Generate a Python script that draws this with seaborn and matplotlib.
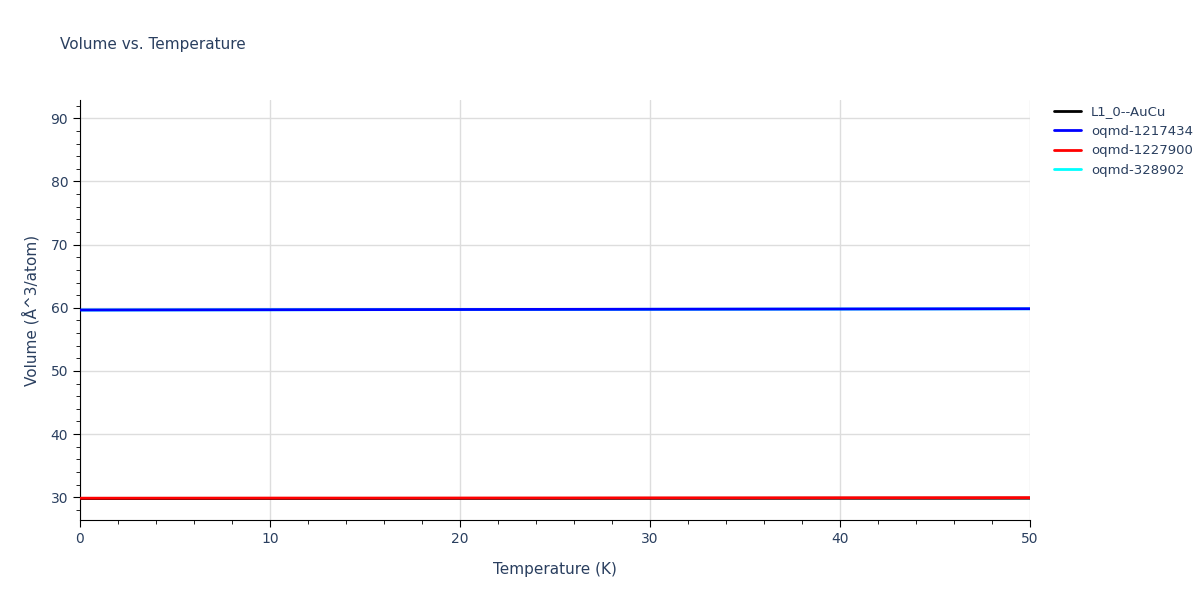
import matplotlib
matplotlib.use("Agg")
import matplotlib.pyplot as plt
import seaborn as sns
import pandas as pd
from matplotlib.ticker import MultipleLocator

temps = [0, 5, 10, 15, 20, 25, 30, 35, 40, 45, 50]
vol_l10 = [29.80, 29.80, 29.81, 29.81, 29.82, 29.82, 29.83, 29.83, 29.84, 29.84, 29.85]
vol_1217434 = [59.65, 59.67, 59.69, 59.71, 59.73, 59.75, 59.77, 59.79, 59.81, 59.83, 59.85]
vol_1227900 = [29.85, 29.86, 29.87, 29.87, 29.88, 29.89, 29.90, 29.91, 29.92, 29.93, 29.94]
vol_328902 = [59.64, 59.66, 59.68, 59.70, 59.72, 59.74, 59.76, 59.78, 59.80, 59.82, 59.84]

series = {
    "L1_0--AuCu": (vol_l10, "black", 2),
    "oqmd-1217434": (vol_1217434, "blue", 3),
    "oqmd-1227900": (vol_1227900, "red", 3),
    "oqmd-328902": (vol_328902, "cyan", 1),
}

sns.set_style("white")
fig = plt.figure(figsize=(12, 6), dpi=100)
ax = fig.add_axes([80 / 1200, 80 / 600, 950 / 1200, 420 / 600])

for name, (vals, col, z) in series.items():
    df = pd.DataFrame({"T": temps, "V": vals})
    sns.lineplot(data=df, x="T", y="V", color=col, linewidth=2, ax=ax, label=name, zorder=z)

ax.set_xlim(0, 50)
ax.set_ylim(26.4, 92.9)
ax.xaxis.set_major_locator(MultipleLocator(10))
ax.yaxis.set_major_locator(MultipleLocator(10))
ax.xaxis.set_minor_locator(MultipleLocator(2))
ax.yaxis.set_minor_locator(MultipleLocator(2))
ax.grid(True, which="major", color="#dddddd", linewidth=1)
for s in ["top", "right"]:
    ax.spines[s].set_visible(False)
ax.spines["bottom"].set_color("black")
ax.spines["left"].set_color("black")
ax.tick_params(which="major", direction="out", length=5, color="black", labelsize=10, labelcolor="#2a3f5f",
               bottom=True, left=True)
ax.tick_params(which="minor", direction="out", length=3, color="black", bottom=True, left=True)
ax.set_xlabel("Temperature (K)", fontsize=11, color="#2a3f5f", labelpad=12)
ax.set_ylabel("Volume (Å^3/atom)", fontsize=11, color="#2a3f5f", labelpad=8)
fig.text(60 / 1200, 1 - 45 / 600, "Volume vs. Temperature", fontsize=11, color="#2a3f5f", va="center")
ax.legend(loc="upper left", bbox_to_anchor=(1.02, 1.0), frameon=False, fontsize=9.5,
          labelcolor="#2a3f5f", handlelength=2, borderaxespad=0)

fig.savefig("out.png")
